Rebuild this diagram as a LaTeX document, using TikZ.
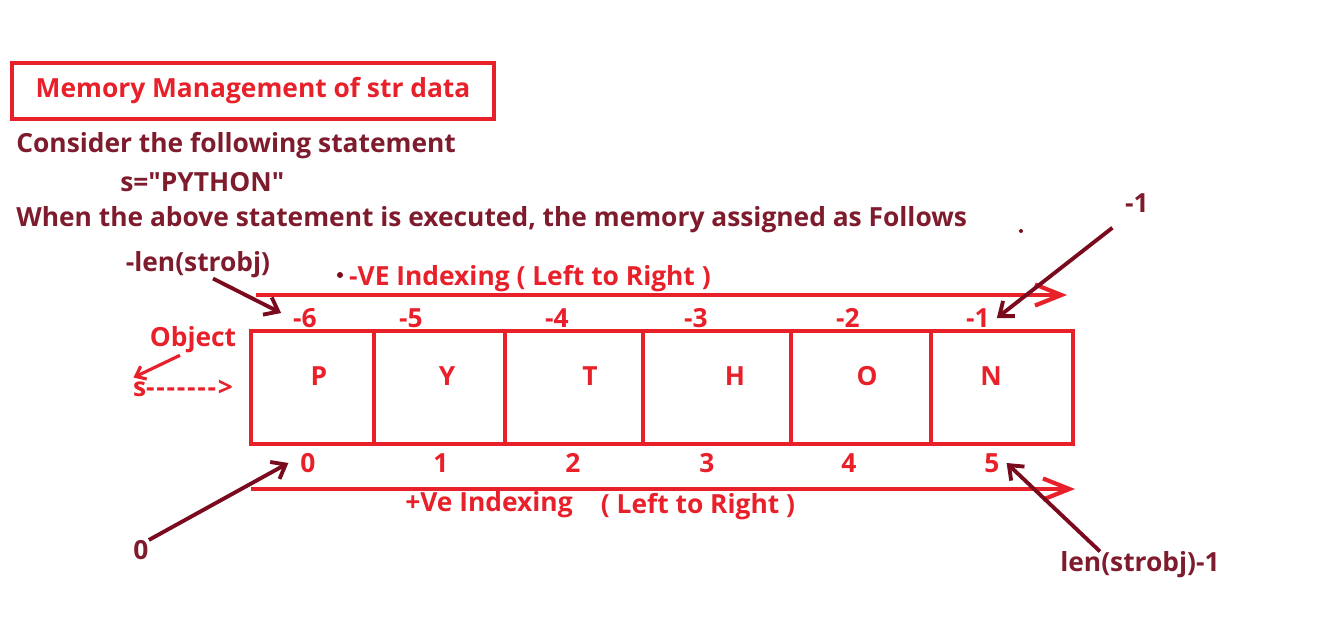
\documentclass[tikz,border=0pt]{standalone}
\usepackage{xcolor}
\usepackage{fontspec}
\setmainfont{Open Sans}
\newfontfamily\rawfont{Open Sans}
\usepackage{tikz}
\usetikzlibrary{arrows.meta, positioning}

\definecolor{memred}{HTML}{E8202A}
\definecolor{inkred}{HTML}{7E1B2C}
\definecolor{penred}{HTML}{7A0A1E}

\begin{document}
\begin{tikzpicture}[
    x=0.02cm, y=-0.02cm,
    heading/.style = {font=\fontsize{15}{17}\selectfont\bfseries, text=inkred, anchor=west, inner sep=0pt},
    note/.style = {font=\fontsize{15}{17}\selectfont\bfseries, text=inkred, inner sep=0pt},
    titlebox/.style = {draw=memred, line width=2.2pt, font=\fontsize{15}{17}\selectfont\bfseries, text=memred, minimum width=9.64cm, minimum height=1.12cm},
    idx/.style = {font=\fontsize{15}{17}\selectfont\bfseries, text=memred, inner sep=1pt},
    cellbox/.style = {draw=memred, line width=2.4pt},
    axis/.style = {draw=memred, line width=2.4pt, -{Straight Barb[length=15pt, width=12pt]}},
    pointer/.style = {draw=penred, line width=2.2pt, -{Straight Barb[length=7pt, width=11pt]}}
]
\useasboundingbox (0,0) rectangle (1323,616);

\node [titlebox] (title) at (253,91) {Memory Management of str data};

\node [heading] (consider) at (16,146) {Consider the following statement};
\node [heading] (stmt) at (120,182) {\rawfont\bfseries s="PYTHON"};
\node [heading] (when) at (16,220) {When the above statement is executed, the memory assigned as Follows};

\node [note] (lenneg) at (198,265) {-len(strobj)};
\node [note] (minusone) at (1137,203) {-1};
\node [note] (zero) at (141,550) {0};
\node [note] (lenpos) at (1140,565) {len(strobj)-1};

\node [idx] (negtitle) at (530,279) {-VE Indexing ( Left to Right )};
\node [idx] (postitle) at (489,505) {+Ve Indexing};
\node [idx] (posdir) at (698,507) {( Left to Right )};
\node [idx] (objlbl) at (193,340) {Object};
\node [idx, anchor=west] (svar) at (131,388) {s-\kern1pt-\kern1pt-\kern1pt-\kern1pt-\kern1pt-\kern1pt-\kern1pt>};

% memory cells
\foreach \i/\l/\r/\ch/\cx in {0/251/374/P/319, 1/374/505/Y/447, 2/505/643/T/590, 3/643/791/H/735, 4/791/931/O/867, 5/931/1073/N/991} {
    \draw [cellbox] (\l,331) rectangle (\r,444);
    \node [idx] (ch\i) at (\cx,376) {\ch};
}

% index numbers
\foreach \i/\x/\v in {0/305/-6, 1/411/-5, 2/557/-4, 3/696/-3, 4/848/-2, 5/978/-1}
    \node [idx] (neg\i) at (\x,318) {\v};
\foreach \i/\x in {0/308, 1/441, 2/573, 3/707, 4/849, 5/992}
    \node [idx] (pos\i) at (\x,463) {\i};

\coordinate (negstart) at (256,295);
\coordinate (negend) at (1067,295);
\coordinate (posstart) at (251,489);
\coordinate (posend) at (1075,489);
\draw [axis] (negstart) -- (negend);
\draw [axis] (posstart) -- (posend);

\draw [pointer] ([xshift=0.3cm]lenneg.south) -- ([xshift=-0.2cm, yshift=0.1cm]neg0.west);
\draw [pointer] ([shift={(-0.25cm,-0.3cm)}]minusone.south west) -- ([xshift=0.1cm]neg5.east);
\draw [pointer] (zero.north east) -- ([xshift=-0.2cm]pos0.west);
\draw [pointer] ([xshift=-0.8cm]lenpos.north) -- ([xshift=0.1cm]pos5.east);
\draw [draw=memred, line width=1.8pt, -{Straight Barb[length=5pt, width=8pt]}] ([xshift=-0.26cm]objlbl.south) -- ([xshift=0.05cm]svar.north west);

% stray pen dots
\fill [penred] (340,275) circle (3);
\fill [penred] (1021,231) circle (2);
\end{tikzpicture}
\end{document}
